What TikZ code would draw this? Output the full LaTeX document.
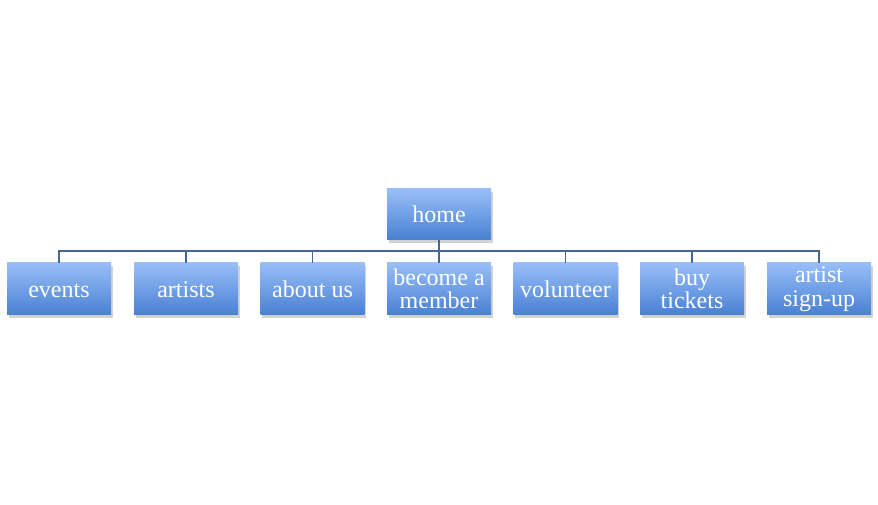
\documentclass[tikz,border=0pt]{standalone}
\usepackage{fontspec}
\setmainfont{Liberation Serif}
\usetikzlibrary{shadows}
\definecolor{boxtop}{RGB}{152,190,248}
\definecolor{boxbot}{RGB}{72,128,210}
\definecolor{linec}{RGB}{70,102,150}
\tikzset{
  pagebox/.style={rectangle, minimum width=104pt, minimum height=52pt, inner sep=0pt,
    top color=boxtop, bottom color=boxbot, text=white, align=center,
    font=\fontsize{24}{23.5}\selectfont,
    drop shadow={shadow xshift=1.5pt, shadow yshift=-3pt, opacity=0.25, fill=black!70}},
  oneline/.style={text height=17pt, text depth=0pt},
  conn/.style={draw=linec, line width=1.4pt}
}
\begin{document}
\begin{tikzpicture}[x=1pt,y=1pt]
\useasboundingbox (0,0) rectangle (878,505);
\node[pagebox, oneline, minimum height=51pt] (home) at (439,290.5) {home};
\node[pagebox, oneline] (c1) at (59,216) {events};
\node[pagebox, oneline] (c2) at (186,216) {artists};
\node[pagebox, oneline] (c3) at (312.5,216) {about us};
\node[pagebox] (c4) at (439,216) {become a\\member};
\node[pagebox, oneline] (c5) at (565.5,216) {volunteer};
\node[pagebox] (c6) at (692,216) {buy\\tickets};
\node[pagebox] (c7) at (819,216) {artist\\sign-up};
\coordinate (bus) at (439,254);
\foreach \c in {c1,c2,c3,c4,c5,c6,c7}{
  \draw[conn] (home.south) -- (bus) -| (\c.north);
}
\end{tikzpicture}
\end{document}
